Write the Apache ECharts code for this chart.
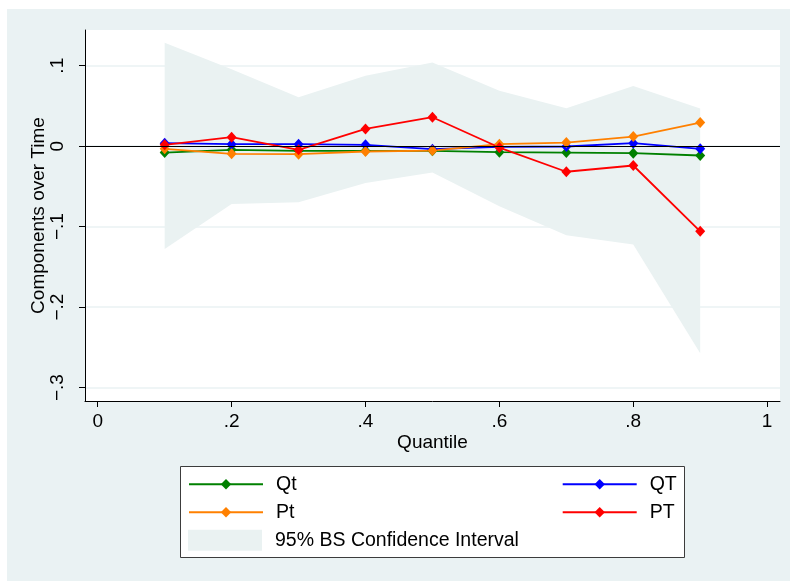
<!DOCTYPE html>
<html>
<head>
<meta charset="utf-8">
<script src="https://cdn.jsdelivr.net/npm/echarts@6/dist/echarts.min.js"></script>
<style>
html,body{margin:0;padding:0;background:#ffffff;}
#chart{width:790px;height:581px;}
</style>
</head>
<body>
<div id="chart"></div>
<script>
// ---- data ----
var quantiles = [0.1, 0.2, 0.3, 0.4, 0.5, 0.6, 0.7, 0.8, 0.9];
var Qt = [-0.0079, -0.0045, -0.0058, -0.0058, -0.0058, -0.0074, -0.0079, -0.0087, -0.0116];
var QT = [0.0037, 0.0025, 0.0025, 0.0017, -0.0037, -0.0008, -0.0004, 0.0037, -0.0033];
var Pt = [-0.0033, -0.0095, -0.0099, -0.0066, -0.0054, 0.0025, 0.0045, 0.0120, 0.0293];
var PT = [0.0017, 0.0112, -0.0045, 0.0215, 0.0360, -0.0017, -0.0318, -0.0240, -0.1058];
var ciUpper = [0.1285, 0.0955, 0.0607, 0.0876, 0.1040, 0.0690, 0.0471, 0.0748, 0.0467];
var ciLower = [-0.1277, -0.0719, -0.0698, -0.0459, -0.0326, -0.0748, -0.1107, -0.1223, -0.2574];
var xTicks = [0, 0.2, 0.4, 0.6, 0.8, 1];
var xTickLabels = ['0', '.2', '.4', '.6', '.8', '1'];
var yTicks = [-0.3, -0.2, -0.1, 0, 0.1];
var yTickLabels = ['\u2212.3', '\u2212.2', '\u2212.1', '0', '.1'];

var BG = '#eaf2f3';
var CI = '#eaf2f2';
var FONT = 'Liberation Sans, Arial, Helvetica, sans-serif';

function pairs(ys) { return quantiles.map(function (q, i) { return [q, ys[i]]; }); }
function lookup(ticks, labels, v) {
  for (var i = 0; i < ticks.length; i++) { if (Math.abs(ticks[i] - v) < 1e-9) return labels[i]; }
  return '';
}
function lineSeries(name, ys, color) {
  return {
    type: 'line', name: name, data: pairs(ys),
    symbol: 'diamond', symbolSize: [10, 11], showSymbol: true,
    lineStyle: { color: color, width: 1.8 },
    itemStyle: { color: color },
    animation: false, z: 3
  };
}

var chart = echarts.init(document.getElementById('chart'), null, { renderer: 'canvas' });
var option = {
  backgroundColor: '#ffffff',
  animation: false,
  textStyle: { fontFamily: FONT },
  graphic: [
    { type: 'rect', z: -10, silent: true, shape: { x: 7, y: 9, width: 783, height: 572 }, style: { fill: BG } },
    { type: 'rect', z: 0, silent: true, shape: { x: 180.5, y: 466.5, width: 504, height: 91 }, style: { fill: '#ffffff', stroke: '#3c3c3c', lineWidth: 1 } }
  ],
  grid: { left: 85, right: 10, top: 30, bottom: 180, show: true, backgroundColor: '#ffffff', borderWidth: 0 },
  xAxis: {
    type: 'value', min: -0.019, max: 1.0192,
    name: 'Quantile', nameLocation: 'middle', nameGap: 32, nameMoveOverlap: false,
    nameTextStyle: { fontSize: 19, color: '#000', fontFamily: FONT },
    axisLine: { show: true, onZero: false, lineStyle: { color: '#000', width: 1 } },
    axisTick: { show: true, length: 6, lineStyle: { color: '#000' }, customValues: xTicks },
    axisLabel: { fontSize: 19, color: '#000', margin: 11, fontFamily: FONT, customValues: xTicks,
      formatter: function (v) { return lookup(xTicks, xTickLabels, v); } },
    splitLine: { show: false }
  },
  yAxis: {
    type: 'value', min: -0.3167, max: 0.1444,
    name: 'Components over Time', nameLocation: 'middle', nameGap: 37, nameRotate: 90, nameMoveOverlap: false,
    nameTextStyle: { fontSize: 19, color: '#000', fontFamily: FONT },
    axisLine: { show: true, onZero: false, lineStyle: { color: '#000', width: 1 } },
    axisTick: { show: true, length: 6, lineStyle: { color: '#000' }, customValues: yTicks },
    axisLabel: { fontSize: 19, color: '#000', margin: 17.5, rotate: 90, fontFamily: FONT, customValues: yTicks,
      formatter: function (v) { return lookup(yTicks, yTickLabels, v); } },
    splitLine: { show: true, lineStyle: { color: BG, width: 1.5 } }
  },
  legend: [
    {
      data: ['Qt', 'Pt'], orient: 'vertical', left: 188, top: 474.3, padding: 0,
      itemWidth: 74, itemHeight: 13, itemGap: 8,
      textStyle: { fontSize: 19.5, color: '#000', lineHeight: 20, fontFamily: FONT, padding: [0, 0, 0, 8] }
    },
    {
      data: ['QT', 'PT'], orient: 'vertical', left: 561.7, top: 474.3, padding: 0,
      itemWidth: 74, itemHeight: 13, itemGap: 8,
      textStyle: { fontSize: 19.5, color: '#000', lineHeight: 20, fontFamily: FONT, padding: [0, 0, 0, 8] }
    },
    {
      data: [{ name: '95% BS Confidence Interval', icon: 'rect' }], orient: 'vertical', left: 188, top: 529.8, padding: 0,
      itemWidth: 74, itemHeight: 21, itemGap: 8,
      itemStyle: { color: CI, borderWidth: 0 },
      textStyle: { fontSize: 19.5, color: '#000', lineHeight: 21, fontFamily: FONT, padding: [0, 0, 0, 8] }
    }
  ],
  series: [
    {
      type: 'custom', name: '95% BS Confidence Interval',
      data: quantiles.map(function (q, i) { return [q, ciLower[i], ciUpper[i]]; }),
      encode: { x: 0, y: [1, 2] },
      itemStyle: { color: CI },
      z: 1, silent: true,
      renderItem: function (params, api) {
        if (params.dataIndex !== 0) return null;
        var pts = [];
        for (var i = 0; i < quantiles.length; i++) pts.push(api.coord([quantiles[i], ciUpper[i]]));
        for (var j = quantiles.length - 1; j >= 0; j--) pts.push(api.coord([quantiles[j], ciLower[j]]));
        return { type: 'polygon', shape: { points: pts }, style: { fill: CI } };
      },
      markLine: {
        silent: true, symbol: 'none', label: { show: false },
        lineStyle: { color: '#000', width: 1.2, type: 'solid' },
        data: [{ yAxis: 0 }]
      }
    },
    lineSeries('Qt', Qt, '#008000'),
    lineSeries('QT', QT, '#0000ff'),
    lineSeries('Pt', Pt, '#ff8000'),
    lineSeries('PT', PT, '#ff0000')
  ]
};
chart.setOption(option);
</script>
</body>
</html>
